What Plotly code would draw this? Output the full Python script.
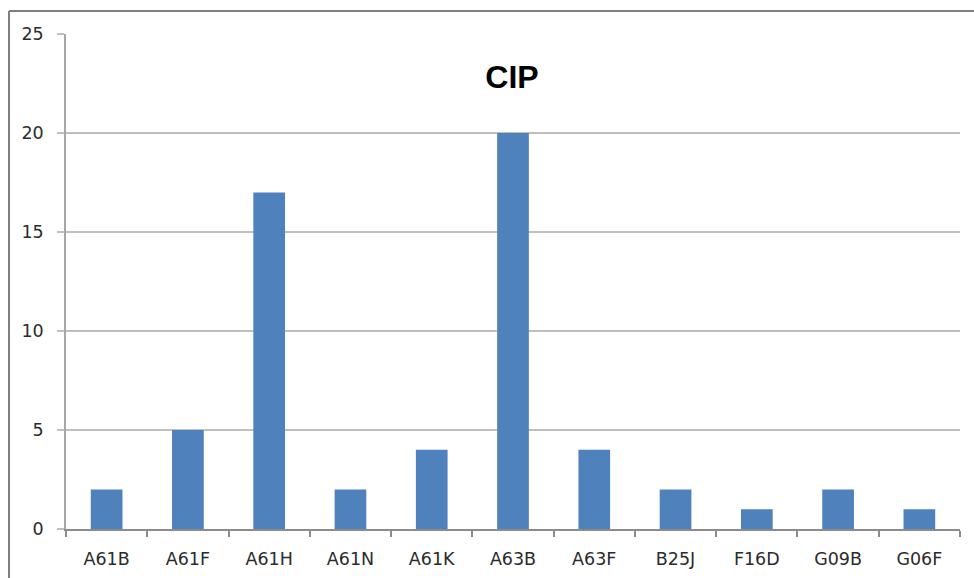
import plotly.graph_objects as go

# Patent classification counts
categories = ["A61B", "A61F", "A61H", "A61N", "A61K", "A63B", "A63F", "B25J", "F16D", "G09B", "G06F"]
counts = [2, 5, 17, 2, 4, 20, 4, 2, 1, 2, 1]
y_ticks = [0, 5, 10, 15, 20, 25]

W, H = 974, 578
L, R, T, B = 66, 14, 34, 49
pw, ph = W - L - R, H - T - B

fig = go.Figure(
    go.Bar(
        x=categories,
        y=counts,
        marker=dict(color="#4F81BD", line=dict(width=0)),
        width=0.39,
    )
)

tick_font = dict(family="DejaVu Sans", size=17.5, color="#2b2b2b")

fig.update_layout(
    width=W,
    height=H,
    margin=dict(l=L, r=R, t=T, b=B),
    paper_bgcolor="white",
    plot_bgcolor="white",
    showlegend=False,
    title=dict(
        text="<b>CIP</b>",
        x=(512) / W,
        xanchor="center",
        y=1 - 77 / H,
        yanchor="middle",
        font=dict(family="Liberation Sans", size=32, color="#000000"),
    ),
    xaxis=dict(
        type="category",
        tickson="boundaries",
        ticks="outside",
        ticklen=6,
        tickcolor="#8c8c8c",
        tickwidth=1.5,
        showline=True,
        linecolor="#8c8c8c",
        linewidth=1.5,
        showgrid=False,
        tickfont=tick_font,
        ticklabelstandoff=13,
        automargin=False,
        fixedrange=True,
    ),
    yaxis=dict(
        range=[0, 25],
        tickvals=y_ticks,
        ticks="outside",
        ticklen=7,
        tickcolor="#bfbfbf",
        tickwidth=1.5,
        showline=True,
        linecolor="#a6a6a6",
        linewidth=1.5,
        showgrid=True,
        gridcolor="#bfbfbf",
        gridwidth=1.5,
        zeroline=False,
        tickfont=tick_font,
        ticklabelstandoff=10,
        automargin=False,
        fixedrange=True,
    ),
)

# Outer chart frame (left and top edges)
fx = (9 - L) / pw
fy = 1 + (T - 11) / ph
fig.add_shape(type="line", xref="paper", yref="paper",
              x0=fx, x1=fx, y0=-0.2, y1=fy,
              line=dict(color="#7f7f7f", width=2))
fig.add_shape(type="line", xref="paper", yref="paper",
              x0=fx, x1=1.1, y0=fy, y1=fy,
              line=dict(color="#7f7f7f", width=2))

fig.write_html("out.html")
